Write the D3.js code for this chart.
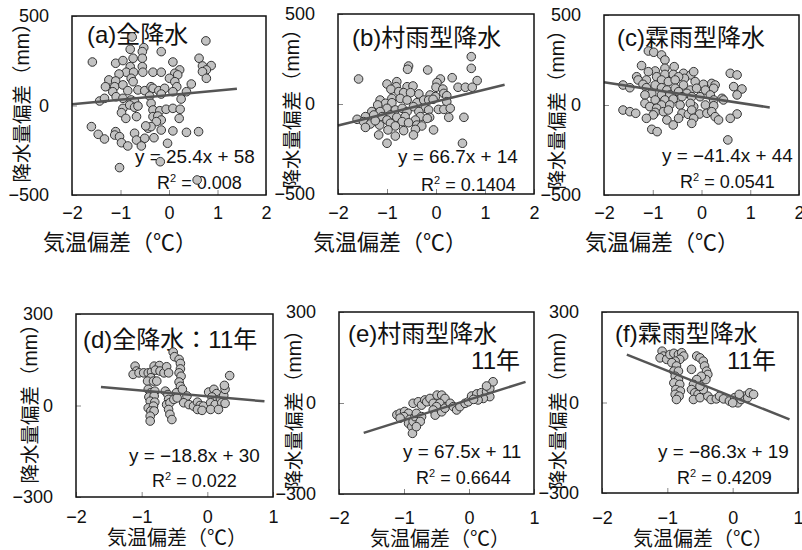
<!DOCTYPE html>
<html>
<head>
<meta charset="utf-8">
<script src="https://cdn.jsdelivr.net/npm/d3@7"></script>
<style>
  body { margin: 0; background: #fff; }
  svg { display: block; }
</style>
</head>
<body>
<svg id="chart" width="802" height="550"></svg>
<script>
// Temperature anomaly (°C) vs precipitation anomaly (mm) pairs for each panel
const ptsA = [[0.76,361],[-0.76,383],[-0.52,323],[-0.55,301],[-0.80,314],[-0.16,301],[-1.58,243],[-1.10,236],[-0.95,251],[-0.74,264],[-0.55,264],[0.08,243],[0.62,264],[-0.80,217],[-0.55,217],[0.22,199],[0.69,221],[0.87,223],[0.77,199],[-0.88,186],[-1.03,176],[-0.73,186],[-0.54,186],[-0.33,186],[-0.16,186],[0.12,180],[0.01,152],[0.18,171],[0.69,189],[0.77,152],[-1.24,143],[-1.10,137],[-0.78,152],[-0.74,133],[0.12,133],[0.46,120],[0.36,77],[-1.31,105],[-1.12,105],[-0.95,115],[-1.16,77],[-0.85,83],[-0.64,87],[-0.50,83],[-0.37,105],[-0.33,96],[-0.21,83],[-0.09,96],[0.16,105],[0.08,77],[-1.43,25],[-1.33,40],[-1.09,49],[-0.95,40],[-0.78,31],[-0.71,22],[-0.40,53],[-0.37,12],[0.25,36],[-0.16,64],[-0.95,-16],[-0.81,3],[-0.71,-10],[-0.64,-3],[-0.33,-25],[-0.19,-29],[-0.06,-21],[0.08,-16],[0.23,-21],[-0.98,-40],[-0.89,-72],[-0.67,-62],[-0.33,-62],[-0.23,-59],[-0.16,-81],[0.21,-72],[-0.26,-90],[-1.60,-118],[-1.10,-146],[-0.43,-127],[-0.37,-118],[-0.16,-137],[0.08,-142],[0.36,-150],[0.61,-146],[-0.48,-114],[-1.46,-161],[-1.33,-187],[-1.12,-165],[-1.02,-174],[-0.98,-208],[-0.71,-155],[-0.67,-193],[-0.50,-183],[-0.31,-180],[-0.85,-226],[-0.57,-226],[-0.03,-211],[-0.18,-314],[-1.02,-347],[0.58,-416]];

const ptsB = [[0.72,263],[0.72,198],[-0.56,211],[-0.58,193],[-0.17,189],[-1.58,139],[0.09,139],[0.33,146],[0.84,130],[-0.80,124],[-1.00,111],[0.02,119],[-0.81,96],[-0.59,96],[-0.47,100],[0.00,93],[0.14,83],[0.45,93],[0.60,93],[0.74,93],[-0.92,82],[-0.76,69],[-0.35,56],[-0.12,50],[-0.01,41],[0.16,59],[0.22,46],[-0.66,63],[-0.52,63],[-0.90,31],[-1.14,22],[-0.73,31],[-1.03,4],[-0.90,7],[-0.59,22],[-0.39,7],[-0.25,22],[-0.15,22],[-0.06,26],[-1.19,-5],[0.22,13],[-1.31,-42],[-1.00,-24],[-0.83,-33],[-0.69,-24],[-0.46,-15],[-0.22,-24],[0.05,-30],[0.16,-30],[0.29,-24],[-1.14,-42],[-0.59,-42],[-0.35,-42],[-0.15,-33],[-1.61,-85],[-1.44,-70],[-1.27,-61],[-1.10,-70],[-0.93,-61],[-0.80,-74],[-0.63,-70],[-0.32,-70],[-0.13,-74],[0.26,-74],[0.57,-74],[-0.42,-89],[-0.18,-80],[-1.00,-89],[-1.48,-98],[-1.34,-111],[-1.15,-117],[-0.93,-107],[-0.69,-98],[-0.56,-104],[-0.39,-117],[-0.29,-122],[-0.83,-122],[-1.24,-93],[-1.44,-130],[-0.98,-144],[-0.66,-148],[-0.42,-141],[-0.05,-144],[-1.17,-172],[-0.83,-178],[-0.46,-172],[-1.00,-218],[0.54,-218]];

const ptsC = [[-1.09,300],[-0.98,293],[-0.82,278],[-0.75,250],[-1.23,219],[-0.75,204],[-0.56,213],[-0.95,189],[-1.33,157],[-1.09,185],[-0.92,157],[-0.75,170],[-0.58,170],[-0.37,176],[-0.22,167],[-0.35,148],[-0.16,185],[0.59,176],[0.73,167],[-1.30,139],[-1.13,139],[-0.47,157],[-0.82,139],[-0.68,130],[-0.54,139],[-0.95,111],[-0.37,111],[-0.13,130],[0.04,115],[0.21,120],[0.28,111],[-1.20,115],[-1.61,111],[-1.47,96],[-1.13,96],[-0.82,96],[-0.71,83],[-0.54,93],[-0.23,83],[-0.10,93],[0.08,83],[0.25,93],[0.66,102],[0.83,89],[-0.47,74],[-0.30,65],[-1.02,65],[-1.16,56],[-0.82,56],[-0.65,56],[-0.40,46],[-0.20,46],[-0.03,46],[0.18,56],[0.42,37],[0.73,56],[-0.95,28],[-0.75,28],[-0.58,33],[0.25,28],[-1.16,9],[-0.82,0],[-0.65,0],[-0.44,0],[-0.16,-9],[0.08,0],[0.25,-4],[-1.06,-9],[-0.92,-18],[-0.23,9],[0.45,28],[-1.61,-28],[-1.47,-37],[-1.35,-46],[-0.95,-41],[-0.78,-37],[-0.68,-28],[-0.40,-46],[-0.27,-52],[-0.04,-50],[-0.20,-28],[0.11,-46],[0.21,-37],[0.28,-65],[-0.99,-55],[0.73,-50],[-1.13,-74],[-0.71,-83],[-0.47,-74],[-0.16,-74],[0.35,-83],[0.59,-74],[-0.58,-111],[-0.20,-102],[-1.02,-135],[-0.91,-148],[0.54,-194]];

const ptsD = [[-1.10,129],[-1.08,113],[-1.13,102],[-1.04,107],[-0.97,107],[-0.90,107],[-0.85,110],[-0.81,129],[-0.73,131],[-0.79,116],[-0.72,113],[-0.66,107],[-0.62,127],[-0.59,107],[-0.86,91],[-0.91,80],[-0.82,80],[-0.77,80],[-0.90,53],[-0.86,42],[-0.80,47],[-0.89,28],[-0.81,31],[-0.87,14],[-0.80,11],[-0.90,-8],[-0.82,-2],[-0.86,-18],[-0.81,-18],[-0.87,-35],[-0.87,-51],[-0.52,175],[-0.50,160],[-0.43,151],[-0.41,138],[-0.41,120],[-0.43,107],[-0.40,96],[-0.43,77],[-0.41,63],[-0.47,42],[-0.64,47],[-0.60,36],[-0.59,20],[-0.62,3],[-0.57,9],[-0.59,-13],[-0.57,-29],[-0.54,-46],[-0.51,20],[-0.46,25],[-0.38,53],[-0.31,31],[-0.36,9],[-0.28,3],[-0.21,-2],[-0.15,11],[-0.11,0],[-0.06,-2],[-0.15,-13],[-0.08,-16],[0.02,44],[0.10,53],[0.14,39],[0.07,28],[0.15,18],[0.05,9],[0.12,3],[0.20,22],[0.25,33],[0.27,53],[0.26,66],[0.22,9],[0.27,7],[0.05,-13],[0.17,-13],[0.34,98]];

const ptsE = [[-1.11,-39],[-1.06,-34],[-0.99,-28],[-0.93,-34],[-1.00,-45],[-0.91,-54],[-0.93,-67],[-0.88,-78],[-0.87,-100],[-0.86,-61],[-0.83,-45],[-0.81,-34],[-0.86,-1],[-0.78,4],[-0.73,-7],[-0.68,10],[-0.65,4],[-0.60,15],[-0.55,-1],[-0.49,26],[-0.42,26],[-0.37,15],[-0.45,-1],[-0.50,-12],[-0.55,-23],[-0.52,-40],[-0.42,-29],[-0.37,-17],[-0.29,-1],[-0.24,-12],[-0.19,-23],[-0.14,-12],[-0.06,-1],[-0.01,4],[0.04,23],[0.12,30],[0.19,34],[0.27,37],[0.32,48],[0.37,70],[0.27,56],[0.32,21],[0.22,15],[0.14,10],[0.07,12],[-0.73,-45],[-0.75,-61],[-1.06,-50],[-0.81,-78]];

const ptsF = [[-1.08,170],[-1.06,154],[-1.11,148],[-1.01,143],[-0.96,159],[-0.90,163],[-0.83,159],[-0.78,165],[-0.75,154],[-0.81,143],[-0.88,137],[-0.93,132],[-0.86,121],[-0.90,104],[-0.83,104],[-0.88,87],[-0.83,76],[-0.90,65],[-0.81,60],[-0.87,43],[-0.80,38],[-0.88,27],[-0.82,21],[-0.86,10],[-0.55,154],[-0.50,148],[-0.45,137],[-0.43,121],[-0.40,104],[-0.38,93],[-0.41,76],[-0.48,87],[-0.55,76],[-0.63,110],[-0.60,60],[-0.63,43],[-0.58,32],[-0.53,27],[-0.60,10],[-0.50,16],[-0.38,21],[-0.33,10],[-0.25,12],[-0.20,21],[-0.14,12],[-0.05,5],[0.03,16],[0.08,-1],[0.13,10],[0.18,21],[0.23,16],[0.26,32],[0.32,27],[0.10,27],[0.00,-1],[-0.45,43],[-0.50,54]];

// Linear fit coefficients and R² for each panel
const slopes = [25.4, 66.7, -41.4, -18.8, 67.5, -86.3];
const intercepts = [58, 14, 44, 30, 11, 19];
const rSquared = ["0.008", "0.1404", "0.0541", "0.022", "0.6644", "0.4209"];

// Panel headings
const titles = ["(a)全降水", "(b)村雨型降水", "(c)霖雨型降水", "(d)全降水：11年", "(e)村雨型降水", "(f)霖雨型降水"];
const subTitles = ["", "", "", "", "11年", "11年"];

// Axis ticks and domains
const xTicksTop = [-2, -1, 0, 1, 2];
const yTicksTop = [-500, 0, 500];
const xTicksBottom = [-2, -1, 0, 1];
const yTicksBottom = [-300, 0, 300];
const fitSpanTop = [-2, 1.4];
const fitSpanBottom = [-1.62, 0.87];

const yAxisTitle = "降水量偏差（mm）";
const xAxisTitle = "気温偏差（℃）";

const NUM_FONT = "'Liberation Sans', Arial, 'Noto Sans CJK JP', sans-serif";
const JP_FONT = "'Liberation Sans', 'Noto Sans CJK JP', sans-serif";

const panels = [
  { pts: ptsA, box: [72, 16, 266, 195], xt: xTicksTop, yt: yTicksTop, span: fitSpanTop, xpad: 11,
    yTitle: [22, 98], xTitle: [120, 242], xTitleSize: 22, title: [87, 34], sub: null, eq: [135, 163], r2: [157, 189] },
  { pts: ptsB, box: [338, 14, 534, 194], xt: xTicksTop, yt: yTicksTop, span: fitSpanTop, xpad: 12,
    yTitle: [292, 104], xTitle: [390, 242], xTitleSize: 22, title: [352, 37], sub: null, eq: [398, 163], r2: [421, 191] },
  { pts: ptsC, box: [604, 15, 799, 195], xt: xTicksTop, yt: yTicksTop, span: fitSpanTop, xpad: 11,
    yTitle: [557, 105], xTitle: [662, 242], xTitleSize: 22, title: [617, 37], sub: null, eq: [662, 162], r2: [680, 188] },
  { pts: ptsD, box: [76, 314, 273, 497], xt: xTicksBottom, yt: yTicksBottom, span: fitSpanBottom, xpad: 13,
    yTitle: [30, 399], xTitle: [177, 538], xTitleSize: 20, title: [83, 339], sub: null, eq: [129, 462], r2: [152, 487] },
  { pts: ptsE, box: [339, 312, 534, 494], xt: xTicksBottom, yt: yTicksBottom, span: fitSpanBottom, xpad: 17,
    yTitle: [294, 405], xTitle: [440, 539], xTitleSize: 20, title: [348, 333], sub: [520, 360], eq: [403, 458], r2: [416, 484] },
  { pts: ptsF, box: [602, 312, 798, 493], xt: xTicksBottom, yt: yTicksBottom, span: fitSpanBottom, xpad: 18,
    yTitle: [558, 405], xTitle: [703, 539], xTitleSize: 20, title: [615, 333], sub: [776, 360], eq: [658, 458], r2: [677, 484] }
];

const svg = d3.select("#chart");
const fmt = d3.format("d");

panels.forEach((p, i) => {
  const [l, t, r, b] = p.box;
  const xDom = [p.xt[0], p.xt[p.xt.length - 1]];
  const yDom = [p.yt[0], p.yt[p.yt.length - 1]];
  const x = d3.scaleLinear().domain(xDom).range([l, r]);
  const y = d3.scaleLinear().domain(yDom).range([b, t]);
  const g = svg.append("g");

  // axes: short inward ticks, labels outside the frame
  g.append("g")
    .attr("transform", `translate(0,${b})`)
    .call(d3.axisBottom(x).tickValues(p.xt).tickFormat(fmt).tickSizeInner(-5).tickSizeOuter(0).tickPadding(p.xpad))
    .call(a => a.select(".domain").remove())
    .call(a => a.selectAll("line").attr("stroke", "#888"))
    .call(a => a.selectAll("text").attr("fill", "#111"))
    .attr("font-family", NUM_FONT).attr("font-size", 18);

  g.append("g")
    .attr("transform", `translate(${l},0)`)
    .call(d3.axisLeft(y).tickValues(p.yt).tickFormat(fmt).tickSizeInner(-5).tickSizeOuter(0).tickPadding(23))
    .call(a => a.select(".domain").remove())
    .call(a => a.selectAll("line").attr("stroke", "#888"))
    .call(a => a.selectAll("text").attr("fill", "#111"))
    .attr("font-family", NUM_FONT).attr("font-size", 18);

  // axis titles
  g.append("text")
    .attr("transform", `translate(${p.yTitle[0]},${p.yTitle[1]}) rotate(-90)`)
    .attr("text-anchor", "middle").attr("dy", "0.35em")
    .attr("font-family", JP_FONT).attr("font-size", 19.5).attr("fill", "#111")
    .text(yAxisTitle);

  g.append("text")
    .attr("x", p.xTitle[0]).attr("y", p.xTitle[1])
    .attr("text-anchor", "middle").attr("dy", "0.35em")
    .attr("font-family", JP_FONT).attr("font-size", p.xTitleSize).attr("fill", "#111")
    .text(xAxisTitle);

  // panel heading
  g.append("text")
    .attr("x", p.title[0]).attr("y", p.title[1]).attr("dy", "0.36em")
    .attr("font-family", JP_FONT).attr("font-size", 24).attr("fill", "#111")
    .text(titles[i]);
  if (p.sub) {
    g.append("text")
      .attr("x", p.sub[0]).attr("y", p.sub[1]).attr("dy", "0.36em")
      .attr("text-anchor", "end")
      .attr("font-family", JP_FONT).attr("font-size", 24).attr("fill", "#111")
      .text(subTitles[i]);
  }

  // fit equation and R²
  const m = slopes[i], c = intercepts[i];
  const mTxt = (m < 0 ? "−" : "") + Math.abs(m).toFixed(1);
  g.append("text")
    .attr("transform", `translate(${p.eq[0]},${p.eq[1]}) scale(1.05,1)`)
    .attr("font-family", NUM_FONT).attr("font-size", 18).attr("fill", "#111")
    .text(`y = ${mTxt}x + ${c}`);
  const rt = g.append("text")
    .attr("x", p.r2[0]).attr("y", p.r2[1])
    .attr("font-family", NUM_FONT).attr("font-size", 18).attr("fill", "#111");
  rt.append("tspan").text("R");
  rt.append("tspan").attr("dy", -7).attr("font-size", 11).text("2");
  rt.append("tspan").attr("dy", 7).text(` = ${rSquared[i]}`);

  // scatter points
  g.append("g").selectAll("circle").data(p.pts).join("circle")
    .attr("cx", d => x(d[0])).attr("cy", d => y(d[1])).attr("r", 4.3)
    .attr("fill", "#c2c2c2").attr("stroke", "#333").attr("stroke-width", 1);

  // regression line
  g.append("line")
    .attr("x1", x(p.span[0])).attr("y1", y(m * p.span[0] + c))
    .attr("x2", x(p.span[1])).attr("y2", y(m * p.span[1] + c))
    .attr("stroke", "#555").attr("stroke-width", 2.5);

  // frame
  g.append("rect")
    .attr("x", l).attr("y", t).attr("width", r - l).attr("height", b - t)
    .attr("fill", "none").attr("stroke", "#111").attr("stroke-width", 1.5);
});
</script>
</body>
</html>
